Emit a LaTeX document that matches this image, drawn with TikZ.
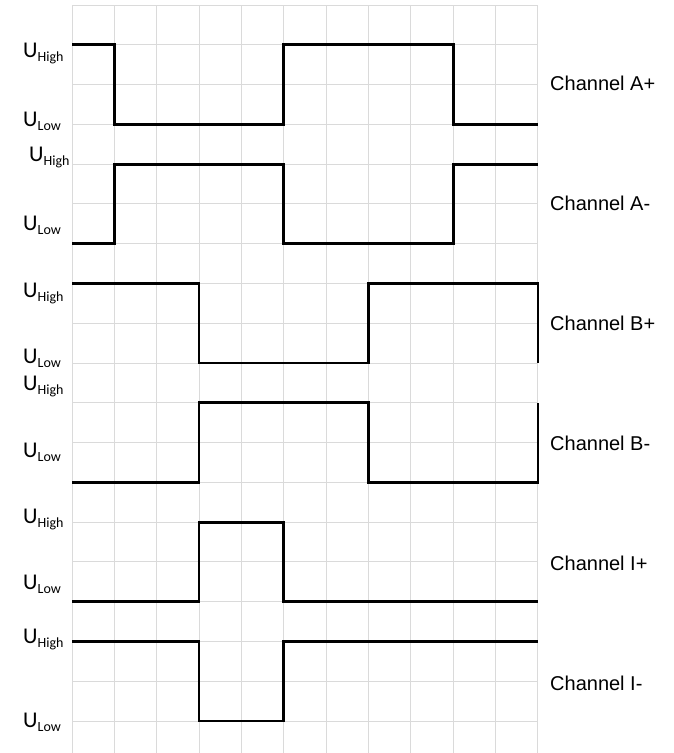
\documentclass[tikz,border=0pt]{standalone}
\usepackage{fontspec}
\setmainfont{Liberation Sans}
\newfontfamily\ufont{Carlito}
\definecolor{gridgray}{HTML}{DADADA}
\newcommand{\UHigh}{{\ufont\fontsize{22.5}{22.5}\selectfont U\raisebox{-4pt}{\fontsize{14}{14}\selectfont High}}}
\newcommand{\ULow}{{\ufont\fontsize{22.5}{22.5}\selectfont U\raisebox{-4pt}{\fontsize{14}{14}\selectfont Low}}}
\tikzset{
  gridline/.style={draw=gridgray, line width=1pt},
  signal/.style={draw=black, line width=2.8pt, line join=miter},
  ulabel/.style={anchor=base west, inner sep=0pt},
  chlabel/.style={anchor=base west, inner sep=0pt, font=\fontsize{20}{20}\selectfont},
}
\begin{document}
\begin{tikzpicture}[x=1pt,y=-1pt]
\useasboundingbox (0,0) rectangle (673,753);
\fill[white] (0,0) rectangle (673,753);
% grid and signals in grid units
\begin{scope}[shift={(72pt,-5pt)}, x=42.36pt, y=-39.78pt]
  \foreach \i in {0,...,11} \draw[gridline] (\i,0) -- (\i,18.8);
  \foreach \k in {0,...,18} \draw[gridline] (0,\k) -- (11,\k);
  % Channel A+
  \draw[signal] (0,1) -- (1,1) -- (1,3) -- (5,3) -- (5,1) -- (9,1) -- (9,3) -- (11,3);
  % Channel A-
  \draw[signal] (0,6) -- (1,6) -- (1,4) -- (5,4) -- (5,6) -- (9,6) -- (9,4) -- (11,4);
  % Channel B+
  \draw[signal] (0,7) -- (3,7) -- (3,9) -- (7,9) -- (7,7) -- (11,7) -- (11,9);
  % Channel B-
  \draw[signal] (0,12) -- (3,12) -- (3,10) -- (7,10) -- (7,12) -- (11,12) -- (11,10);
  % Channel I+
  \draw[signal] (0,15) -- (3,15) -- (3,13) -- (5,13) -- (5,15) -- (11,15);
  % Channel I-
  \draw[signal] (0,16) -- (3,16) -- (3,18) -- (5,18) -- (5,16) -- (11,16);
\end{scope}
% level labels
\node[ulabel] (ahp) at (23,57) {\UHigh};
\node[ulabel] (alp) at (23,126) {\ULow};
\node[ulabel] (ahm) at (29,161) {\UHigh};
\node[ulabel] (alm) at (23,230) {\ULow};
\node[ulabel] (bhp) at (23,297) {\UHigh};
\node[ulabel] (blp) at (23,363) {\ULow};
\node[ulabel] (bhm) at (23,390) {\UHigh};
\node[ulabel] (blm) at (23,457) {\ULow};
\node[ulabel] (ihp) at (23,523) {\UHigh};
\node[ulabel] (ilp) at (23,589) {\ULow};
\node[ulabel] (ihm) at (23,643) {\UHigh};
\node[ulabel] (ilm) at (23,727) {\ULow};
% channel labels
\node[chlabel] (cap) at (550,90) {Channel A+};
\node[chlabel] (cam) at (550,210) {Channel A-};
\node[chlabel] (cbp) at (550,330) {Channel B+};
\node[chlabel] (cbm) at (550,450) {Channel B-};
\node[chlabel] (cip) at (550,570) {Channel I+};
\node[chlabel] (cim) at (550,690) {Channel I-};
\end{tikzpicture}
\end{document}
